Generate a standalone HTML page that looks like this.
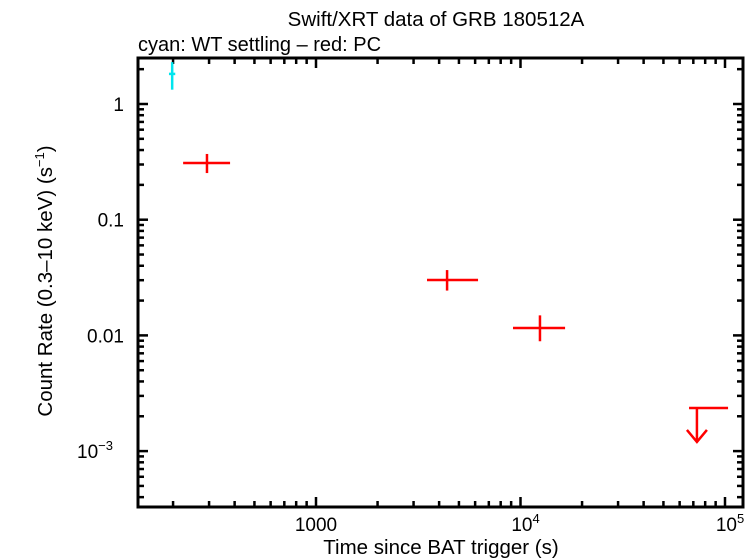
<!DOCTYPE html>
<html><head><meta charset="utf-8"><style>
body{margin:0;background:#fff}
svg{display:block;font-family:"Liberation Sans",sans-serif}
</style></head><body>
<svg id="chart" width="755" height="558" viewBox="0 0 755 558">
<text x="436" y="26" font-size="20.5" text-anchor="middle">Swift/XRT data of GRB 180512A</text>
<text x="138" y="51" font-size="20">cyan: WT settling – red: PC</text>
<text x="441" y="554" font-size="20.5" text-anchor="middle">Time since BAT trigger (s)</text>
<text transform="translate(52,281) rotate(-90)" font-size="20.5" text-anchor="middle">Count Rate (0.3–10 keV) (s<tspan dy="-8" font-size="13">−1</tspan><tspan dy="8">)</tspan></text>
<g id="axes"></g>
<g id="marks"></g>
<rect x="138" y="58" width="605" height="449" fill="none" stroke="#000" stroke-width="3"/>
</svg>
<script>
const wtTime=[198], wtTimeLo=[191], wtTimeHi=[205], wtRate=[1.82], wtRateLo=[1.33], wtRateHi=[2.3];
const pcTime=[293,4375,12450], pcTimeLo=[224,3490,9190], pcTimeHi=[380,6200,16520];
const pcRate=[0.309,0.0301,0.01159], pcRateLo=[0.253,0.0244,0.0089], pcRateHi=[0.370,0.0367,0.0149];
const ulTime=[72900], ulTimeLo=[66700], ulTimeHi=[103500], ulRate=[0.00236];
const xTickVals=[1000,10000,100000], xTickLabels=[["1000",""],["10","4"],["10","5"]];
const yTickVals=[1,0.1,0.01,0.001], yTickLabels=[["1",""],["0.1",""],["0.01",""],["10","−3"]];
const NS="http://www.w3.org/2000/svg";
const X=t=>316+204.5*(Math.log10(t)-3);
const Y=r=>104-115.7*Math.log10(r);
function el(tag,attrs,parent){const e=document.createElementNS(NS,tag);for(const k in attrs)e.setAttribute(k,attrs[k]);parent.appendChild(e);return e;}
const axes=document.getElementById('axes'), marks=document.getElementById('marks');
for(let d=2;d<=5;d++){for(let m=1;m<10;m++){const v=m*Math.pow(10,d);const x=X(v);if(x<139||x>742)continue;const len=m===1?10:6;
 const t1=el('line',{x1:x,x2:x,y1:507,y2:507-len,stroke:'#000','stroke-width':2.5},axes);
 
 
 const t2=el('line',{x1:x,x2:x,y1:58,y2:58+len,stroke:'#000','stroke-width':2.5},axes);
 
 }}
for(let d=-4;d<=0;d++){for(let m=1;m<10;m++){const v=m*Math.pow(10,d);const y=Y(v);if(y<59||y>506)continue;const len=m===1?10:6;
 const t1=el('line',{x1:138,x2:138+len,y1:y,y2:y,stroke:'#000','stroke-width':2.5},axes);
 
 
 const t2=el('line',{x1:743,x2:743-len,y1:y,y2:y,stroke:'#000','stroke-width':2.5},axes);
 
 }}
xTickVals.forEach((v,i)=>{const t=el('text',{x:X(v)+(xTickLabels[i][1]?5:0),y:531,'font-size':19,'text-anchor':'middle'},axes);
 
 
 t.textContent=xTickLabels[i][0];if(xTickLabels[i][1]){const s=el('tspan',{dy:-8,'font-size':13},t);s.textContent=xTickLabels[i][1];}});
yTickVals.forEach((v,i)=>{const t=el('text',{x:yTickLabels[i][1]?113:124,y:Y(v)+7,'font-size':19,'text-anchor':'end'},axes);
 
 
 t.textContent=yTickLabels[i][0];if(yTickLabels[i][1]){const s=el('tspan',{dy:-8,'font-size':13},t);s.textContent=yTickLabels[i][1];}});
function cross(t,tl,th,r,rl,rh,color,name){
 const g=el('g',{},marks);
 
 
 el('line',{x1:X(tl),x2:X(th),y1:Y(r),y2:Y(r),stroke:color,'stroke-width':2.5},g);
 el('line',{x1:X(t),x2:X(t),y1:Y(rl),y2:Y(rh),stroke:color,'stroke-width':2.5},g);}
wtTime.forEach((t,i)=>cross(t,wtTimeLo[i],wtTimeHi[i],wtRate[i],wtRateLo[i],wtRateHi[i],'#00e5ee','wt-point'));
pcTime.forEach((t,i)=>cross(t,pcTimeLo[i],pcTimeHi[i],pcRate[i],pcRateLo[i],pcRateHi[i],'#ff0000','pc-point'));
ulTime.forEach((t,i)=>{const g=el('g',{fill:'none',stroke:'#ff0000','stroke-width':2.5},marks);
 
 
 const y=Y(ulRate[i]),x=X(t);
 el('line',{x1:X(ulTimeLo[i]),x2:X(ulTimeHi[i]),y1:y,y2:y},g);
 el('line',{x1:x,x2:x,y1:y,y2:y+34},g);
 el('polyline',{points:`${x-10},${y+22} ${x},${y+34} ${x+10},${y+22}`},g);});
</script>
</body></html>
